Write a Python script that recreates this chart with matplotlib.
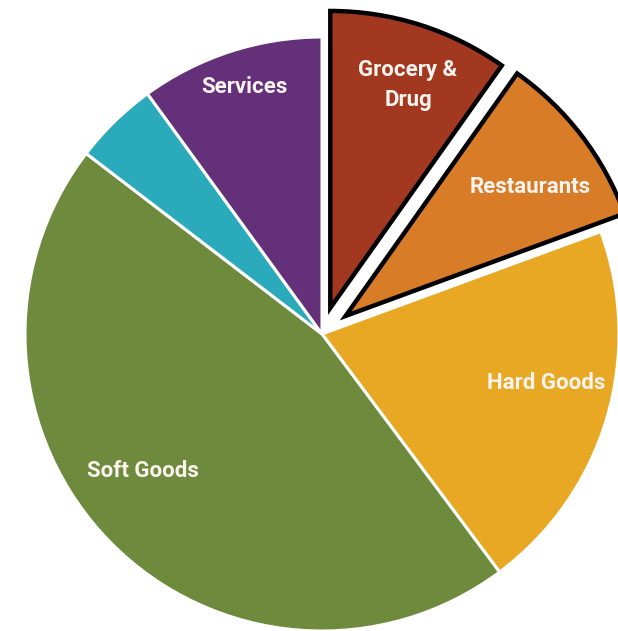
import matplotlib
matplotlib.use("Agg")
import matplotlib.pyplot as plt
from matplotlib import font_manager

# Spending share by retail category (percent)
categories = ["Grocery & Drug", "Restaurants", "Hard Goods", "Soft Goods", "Other", "Services"]
shares = [9.8, 9.6, 20.4, 45.6, 4.6, 10.0]
labels = ["Grocery &\nDrug", "Restaurants", "Hard Goods", "Soft Goods", "", "Services"]
colors = ["#A2381F", "#D97C27", "#E9A823", "#6E8A3C", "#2BAABB", "#65307A"]
explode_frac = [0.092, 0.10, 0, 0, 0, 0]
highlight = [True, True, False, False, False, False]

# label anchor points in pixel space (x, y from top)
label_pos = [(408, 85), (530, 187), (546, 383), (143, 471), None, (244, 87)]

W, H = 618, 631
fig = plt.figure(figsize=(W / 100, H / 100), dpi=100)
ax = fig.add_axes([0, 0, 1, 1])

cx, cy, r = 322, H - 334, 297

# pie() applies explode in data units, so scale by the radius
wedges, _ = ax.pie(shares, colors=colors, explode=[e * r for e in explode_frac],
                   startangle=90, counterclock=False, center=(cx, cy), radius=r,
                   wedgeprops=dict(edgecolor="white", linewidth=2.2))
for w, hl in zip(wedges, highlight):
    if hl:
        w.set_edgecolor("black")
        w.set_linewidth(3.2)
        w.set_zorder(3)

ax.set_xlim(0, W)
ax.set_ylim(0, H)
ax.set_aspect("equal")
ax.axis("off")

avail = {f.name for f in font_manager.fontManager.ttflist}
fam = ["Liberation Sans Narrow"] if "Liberation Sans Narrow" in avail else ["Roboto"]

for lab, pos in zip(labels, label_pos):
    if not lab or pos is None:
        continue
    ax.text(pos[0], H - pos[1], lab, ha="center", va="center",
            color="#FBF3EE", fontsize=16, fontweight="bold",
            family=fam + ["DejaVu Sans"], linespacing=1.45, zorder=5)

fig.savefig("out.png", dpi=100)
